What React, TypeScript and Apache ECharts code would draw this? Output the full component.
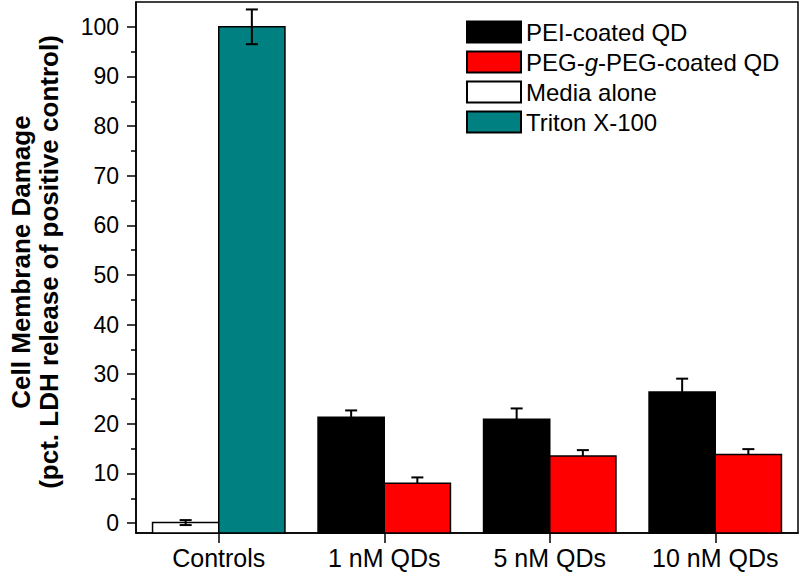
import React, { useEffect, useRef } from "react";
import * as echarts from "echarts";

const categories = ["Controls", "1 nM QDs", "5 nM QDs", "10 nM QDs"];
const peiValues = [null, 21.3, 20.9, 26.4];
const peiErrors = [null, 1.4, 2.2, 2.7];
const pegValues = [null, 8.0, 13.5, 13.8];
const pegErrors = [null, 1.2, 1.2, 1.1];
const mediaValues = [0.1, null, null, null];
const mediaErrors = [0.5, null, null, null];
const tritonValues = [100, null, null, null];
const tritonErrors = [3.5, null, null, null];
const yTickLabels = [0, 10, 20, 30, 40, 50, 60, 70, 80, 90, 100];
const yMinorTicks = [5, 15, 25, 35, 45, 55, 65, 75, 85, 95];
const Y_MIN = -2;
const Y_MAX = 105;

const FONT = "'Liberation Sans', Arial, sans-serif";

function pairs(values: (number | null)[], errs?: (number | null)[]) {
  const out: any[] = [];
  values.forEach((v, i) => {
    if (v === null) return;
    if (errs) {
      if (errs[i] !== null) out.push([i, v, errs[i]]);
    } else out.push([i, v]);
  });
  return out;
}

// error bars drawn through the axes' scales
function errSeries(values: (number | null)[], errs: (number | null)[], offset: number, twoSided: boolean) {
  return {
    type: "custom",
    data: pairs(values, errs),
    encode: { x: 0, y: 1 },
    z: 6,
    silent: true,
    renderItem: (params: any, api: any) => {
      const cat = api.value(0);
      const v = api.value(1);
      const e = api.value(2);
      const band = api.size([1, 0])[0];
      const base = api.coord([cat, v]);
      const top = api.coord([cat, v + e]);
      const bot = api.coord([cat, v - e]);
      const x = base[0] + offset * band;
      const cap = 6;
      const style = { stroke: "#000", lineWidth: 2 };
      const children: any[] = [
        { type: "line", shape: { x1: x, y1: twoSided ? bot[1] : base[1], x2: x, y2: top[1] }, style },
        { type: "line", shape: { x1: x - cap, y1: top[1], x2: x + cap, y2: top[1] }, style },
      ];
      if (twoSided) {
        children.push({ type: "line", shape: { x1: x - cap, y1: bot[1], x2: x + cap, y2: bot[1] }, style });
      }
      return { type: "group", children };
    },
  };
}

// the original's bars reach down to the bottom of the axis (below zero):
// drawn over the bar series, from the axis minimum up to the value
function fullBarSeries(values: (number | null)[], offset: number, color: string) {
  return {
    type: "custom",
    data: pairs(values),
    encode: { x: 0, y: 1 },
    z: 5,
    silent: true,
    renderItem: (params: any, api: any) => {
      const cat = api.value(0);
      const v = api.value(1);
      const band = api.size([1, 0])[0];
      const top = api.coord([cat, v]);
      const bottom = api.coord([cat, Y_MIN]);
      const w = band * 0.4;
      const cx = top[0] + offset * band;
      return {
        type: "rect",
        shape: { x: cx - w / 2, y: top[1], width: w, height: bottom[1] - top[1] },
        style: { fill: color, stroke: "#000", lineWidth: 1.5 },
      };
    },
  };
}

export default function App() {
  const ref = useRef<HTMLDivElement>(null);
  useEffect(() => {
    if (!ref.current) return;
    const chart = echarts.init(ref.current, null, { renderer: "svg" });
    const barCommon = {
      type: "bar",
      barGap: "0%",
      barCategoryGap: "20%",
    };
    chart.setOption({
      animation: false,
      backgroundColor: "#fff",
      grid: {
        left: 136,
        right: 2,
        top: 2,
        bottom: 41,
        show: true,
        borderColor: "#000",
        borderWidth: 1.5,
        backgroundColor: "transparent",
      },
      legend: {
        orient: "vertical",
        left: 461,
        top: 15,
        icon: "rect",
        itemWidth: 54,
        itemHeight: 21,
        itemGap: 6,
        data: ["PEI-coated QD", "PEG-g-PEG-coated QD", "Media alone", "Triton X-100"],
        formatter: (name: string) => {
          if (name === "PEG-g-PEG-coated QD") return "{n|PEG-}{i|g}{n|-PEG-coated QD}";
          return "{n|" + name + "}";
        },
        textStyle: {
          color: "#000",
          fontSize: 24,
          fontFamily: FONT,
          lineHeight: 21,
          rich: {
            n: { fontSize: 24, fontFamily: FONT, color: "#000", lineHeight: 21 },
            i: { fontSize: 24, fontFamily: FONT, fontStyle: "italic", color: "#000", lineHeight: 21 },
          },
        },
      },
      xAxis: {
        type: "category",
        data: categories,
        axisLine: { onZero: false, lineStyle: { color: "#000", width: 1.5 } },
        axisTick: { show: true, alignWithLabel: true, inside: false, length: 10, lineStyle: { color: "#000", width: 1.5 } },
        axisLabel: { color: "#000", fontSize: 25, fontFamily: FONT, margin: 12 },
        splitLine: { show: false },
      },
      yAxis: [
        {
          type: "value",
          min: Y_MIN,
          max: Y_MAX,
          axisLine: { show: true, onZero: false, lineStyle: { color: "#000", width: 1.5 } },
          axisTick: { show: true, length: 9, customValues: yTickLabels, lineStyle: { color: "#000", width: 1.5 } },
          axisLabel: { color: "#000", fontSize: 23, fontFamily: FONT, margin: 17, customValues: yTickLabels },
          splitLine: { show: false },
        },
        {
          type: "value",
          min: Y_MIN,
          max: Y_MAX,
          position: "left",
          axisLine: { show: false, onZero: false },
          axisTick: { show: true, length: 5, customValues: yMinorTicks, lineStyle: { color: "#000", width: 1.5 } },
          axisLabel: { show: false },
          splitLine: { show: false },
        },
      ],
      graphic: [
        {
          type: "text",
          x: 21,
          y: 262,
          rotation: Math.PI / 2,
          style: {
            text: "Cell Membrane Damage",
            fontSize: 26,
            fontWeight: "bold",
            fontFamily: FONT,
            fill: "#000",
            textAlign: "center",
            textVerticalAlign: "middle",
          },
        },
        {
          type: "text",
          x: 49,
          y: 262,
          rotation: Math.PI / 2,
          style: {
            text: "(pct. LDH release of positive control)",
            fontSize: 26,
            fontWeight: "bold",
            fontFamily: FONT,
            fill: "#000",
            textAlign: "center",
            textVerticalAlign: "middle",
          },
        },
      ],
      series: [
        {
          ...barCommon,
          name: "PEI-coated QD",
          stack: "a",
          data: peiValues,
          itemStyle: { color: "#000000", borderColor: "#000", borderWidth: 1.5 },
        },
        {
          ...barCommon,
          name: "PEG-g-PEG-coated QD",
          stack: "b",
          data: pegValues,
          itemStyle: { color: "#ff0000", borderColor: "#000", borderWidth: 1.5 },
        },
        {
          ...barCommon,
          name: "Media alone",
          stack: "a",
          data: mediaValues,
          itemStyle: { color: "#ffffff", borderColor: "#000", borderWidth: 1.5 },
        },
        {
          ...barCommon,
          name: "Triton X-100",
          stack: "b",
          data: tritonValues,
          itemStyle: { color: "#008080", borderColor: "#000", borderWidth: 1.5 },
        },
        fullBarSeries(peiValues, -0.2, "#000000"),
        fullBarSeries(pegValues, 0.2, "#ff0000"),
        fullBarSeries(mediaValues, -0.2, "#ffffff"),
        fullBarSeries(tritonValues, 0.2, "#008080"),
        errSeries(peiValues, peiErrors, -0.2, false),
        errSeries(pegValues, pegErrors, 0.2, false),
        errSeries(mediaValues, mediaErrors, -0.2, true),
        errSeries(tritonValues, tritonErrors, 0.2, true),
      ],
    });
    return () => chart.dispose();
  }, []);
  return <div ref={ref} style={{ width: 800, height: 574, position: "absolute", left: 0, top: 0 }} />;
}
